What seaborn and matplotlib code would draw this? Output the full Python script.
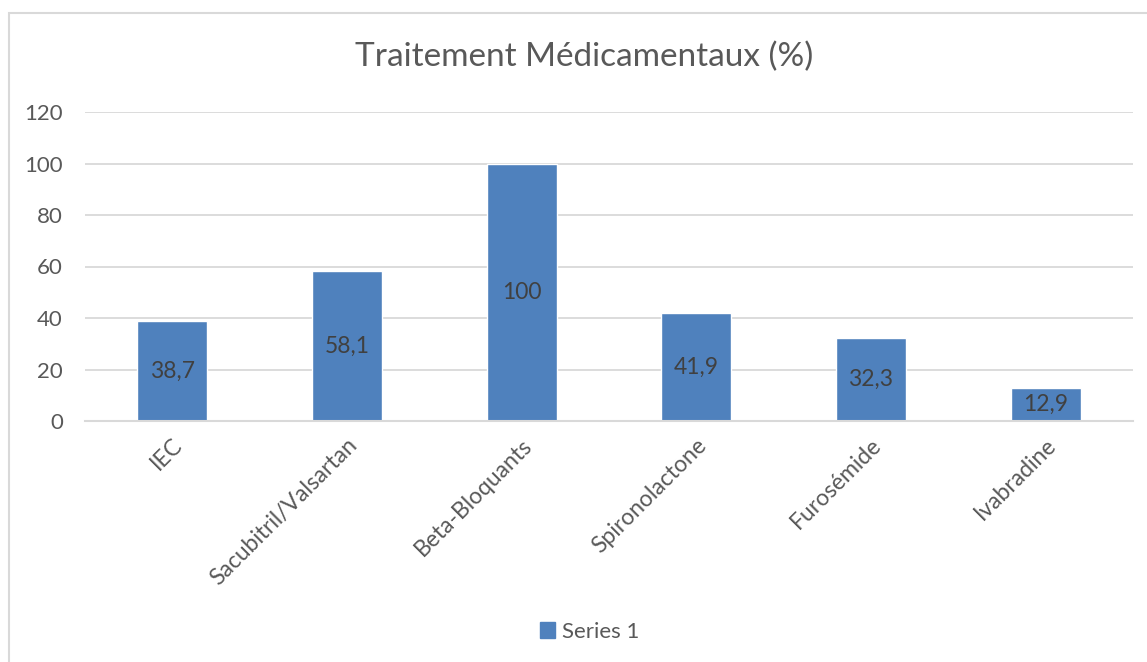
import matplotlib
matplotlib.use("Agg")
import matplotlib.pyplot as plt
import matplotlib.transforms as mtransforms
import seaborn as sns
import pandas as pd
from matplotlib.patches import Rectangle, Patch

categories = ["IEC", "Sacubitril/Valsartan", "Beta-Bloquants", "Spironolactone", "Furosémide", "Ivabradine"]
values = [38.7, 58.1, 100, 41.9, 32.3, 12.9]
value_labels = ["38,7", "58,1", "100", "41,9", "32,3", "12,9"]
y_ticks = [0, 20, 40, 60, 80, 100, 120]
series_name = "Series 1"
title = "Traitement Médicamentaux (%)"

sns.set_theme(style="white")
plt.rcParams['font.family'] = ['Lato', 'DejaVu Sans']

BAR = "#4F81BD"
TXT = "#595959"

fig = plt.figure(figsize=(11.47, 6.62), dpi=100)
ax = fig.add_axes([85/1147, 1-421/662, (1133-85)/1147, (421-112)/662])

df = pd.DataFrame({"cat": categories, "val": values})
sns.barplot(data=df, x="cat", y="val", color=BAR, saturation=1, width=0.4, ax=ax)

ax.set_ylim(0, 120)
ax.set_xlim(-0.5, len(categories) - 0.5)
ax.set_yticks(y_ticks)
ax.set_yticklabels([str(t) for t in y_ticks], fontsize=16, color=TXT)
ax.yaxis.grid(True, color="#D9D9D9", linewidth=1.3)
ax.set_axisbelow(True)
for s in ["top", "right", "left"]:
    ax.spines[s].set_visible(False)
ax.spines["bottom"].set_color("#D9D9D9")
ax.spines["bottom"].set_linewidth(1.5)
ax.tick_params(axis="y", length=0, pad=16)
ax.tick_params(axis="x", length=0, pad=15)
ax.set_xlabel("")
ax.set_ylabel("")

ax.set_xticks(range(len(categories)))
ax.set_xticklabels(categories, rotation=45, ha="right", va="center",
                   rotation_mode="anchor", fontsize=16.5, color=TXT)
offset = mtransforms.ScaledTranslation(7/100, 0, fig.dpi_scale_trans)
for lbl in ax.get_xticklabels():
    lbl.set_transform(lbl.get_transform() + offset)

ax.bar_label(ax.containers[0], labels=value_labels, label_type="center",
             fontsize=16.5, color="#404040")

fig.text(0.509, 1-57/662, title, ha="center", va="center", fontsize=24, color=TXT)

handle = Patch(facecolor=BAR, edgecolor=BAR)
fig.legend([handle], [series_name], loc="center", bbox_to_anchor=(0.514, 1-632/662),
           frameon=False, fontsize=16, labelcolor=TXT, handlelength=0.7,
           handleheight=0.7, handletextpad=0.3)

fig.patches.append(Rectangle((8.5/1147, -0.05), 1.2, 1.05 - 13.5/662,
                             transform=fig.transFigure, fill=False,
                             edgecolor="#D9D9D9", linewidth=1.5))

fig.savefig("out.png", dpi=100)
